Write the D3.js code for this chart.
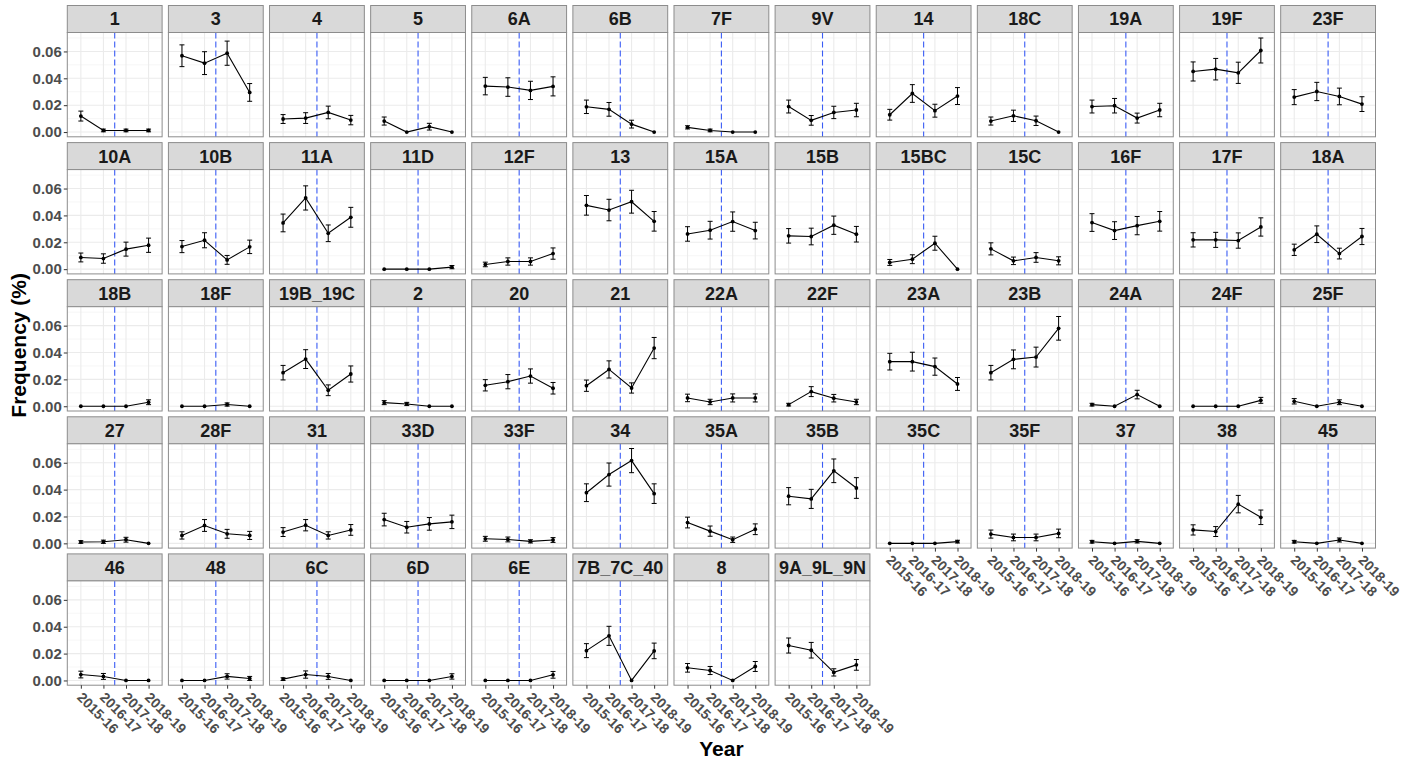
<!DOCTYPE html>
<html>
<head>
<meta charset="utf-8">
<script src="https://cdn.jsdelivr.net/npm/d3@7"></script>
<style>
  body { margin: 0; background: #fff; }
  text { font-family: "Liberation Sans", Arial, sans-serif; }
</style>
</head>
<body>
<script>
const years = ["2015-16", "2016-17", "2017-18", "2018-19"];

const serotypes = [
  "1", "3", "4", "5", "6A", "6B", "7F", "9V", "14", "18C", "19A", "19F", "23F",
  "10A", "10B", "11A", "11D", "12F", "13", "15A", "15B", "15BC", "15C", "16F", "17F", "18A",
  "18B", "18F", "19B_19C", "2", "20", "21", "22A", "22F", "23A", "23B", "24A", "24F", "25F",
  "27", "28F", "31", "33D", "33F", "34", "35A", "35B", "35C", "35F", "37", "38", "45",
  "46", "48", "6C", "6D", "6E", "7B_7C_40", "8", "9A_9L_9N"
];

// mean frequency per serotype, one value per year
const freq = [
  [0.0119, 0.0012, 0.0012, 0.0012], [0.0568, 0.0513, 0.0587, 0.0295], [0.0097, 0.0104, 0.0146, 0.0089],
  [0.0082, 0, 0.0040, 0], [0.0342, 0.0335, 0.0310, 0.0340], [0.0188, 0.0169, 0.0059, 0],
  [0.0035, 0.0012, 0, 0], [0.0190, 0.0087, 0.0146, 0.0164], [0.0129, 0.0287, 0.0159, 0.0268],
  [0.0082, 0.0121, 0.0084, 0], [0.0190, 0.0196, 0.0104, 0.0164], [0.0451, 0.0468, 0.0441, 0.0607],
  [0.0260, 0.0302, 0.0265, 0.0208],
  [0.0087, 0.0079, 0.0149, 0.0178], [0.0168, 0.0215, 0.0069, 0.0166], [0.0344, 0.0530, 0.0267, 0.0386],
  [0, 0, 0, 0.0015], [0.0035, 0.0057, 0.0057, 0.0116], [0.0475, 0.0440, 0.0502, 0.0356],
  [0.0262, 0.0290, 0.0354, 0.0287], [0.0248, 0.0243, 0.0327, 0.0260], [0.0050, 0.0074, 0.0193, 0],
  [0.0151, 0.0062, 0.0087, 0.0062], [0.0347, 0.0287, 0.0324, 0.0356], [0.0218, 0.0218, 0.0213, 0.0314],
  [0.0144, 0.0260, 0.0116, 0.0243],
  [0, 0, 0, 0.0030], [0, 0, 0.0013, 0], [0.0250, 0.0351, 0.0119, 0.0240],
  [0.0027, 0.0017, 0, 0], [0.0156, 0.0183, 0.0225, 0.0134], [0.0153, 0.0274, 0.0136, 0.0433],
  [0.0062, 0.0032, 0.0062, 0.0062], [0.0012, 0.0109, 0.0060, 0.0032], [0.0332, 0.0332, 0.0295, 0.0166],
  [0.0250, 0.0349, 0.0366, 0.0580], [0.0012, 0, 0.0087, 0], [0, 0, 0, 0.0044],
  [0.0037, 0, 0.0030, 0],
  [0.0010, 0.0012, 0.0027, 0], [0.0059, 0.0133, 0.0071, 0.0059], [0.0084, 0.0135, 0.0059, 0.0100],
  [0.0177, 0.0120, 0.0145, 0.0160], [0.0034, 0.0029, 0.0015, 0.0025], [0.0377, 0.0512, 0.0616, 0.0370],
  [0.0155, 0.0091, 0.0027, 0.0105], [0.0351, 0.0331, 0.0540, 0.0412], [0, 0, 0, 0.0013],
  [0.0069, 0.0044, 0.0044, 0.0074], [0.0012, 0, 0.0015, 0], [0.0100, 0.0088, 0.0292, 0.0194],
  [0.0012, 0, 0.0025, 0],
  [0.0044, 0.0030, 0, 0], [0, 0, 0.0030, 0.0015], [0.0010, 0.0044, 0.0030, 0],
  [0, 0, 0, 0.0030], [0, 0, 0, 0.0042], [0.0222, 0.0332, 0, 0.0220],
  [0.0094, 0.0074, 0, 0.0104], [0.0260, 0.0225, 0.0060, 0.0116]
];

// half width of the error bar
const err = [
  [0.0037, 0.0010, 0.0010, 0.0010], [0.0081, 0.0085, 0.0090, 0.0066], [0.0033, 0.0040, 0.0047, 0.0035],
  [0.0030, 0, 0.0025, 0], [0.0065, 0.0069, 0.0068, 0.0071], [0.0050, 0.0051, 0.0029, 0],
  [0.0012, 0.0010, 0, 0], [0.0048, 0.0036, 0.0046, 0.0050], [0.0040, 0.0066, 0.0048, 0.0063],
  [0.0030, 0.0042, 0.0035, 0], [0.0048, 0.0054, 0.0037, 0.0050], [0.0071, 0.0080, 0.0079, 0.0093],
  [0.0056, 0.0068, 0.0062, 0.0055],
  [0.0033, 0.0035, 0.0052, 0.0053], [0.0045, 0.0056, 0.0033, 0.0050], [0.0066, 0.0090, 0.0062, 0.0074],
  [0, 0, 0, 0.0012], [0.0017, 0.0027, 0.0027, 0.0042], [0.0073, 0.0080, 0.0085, 0.0073],
  [0.0054, 0.0066, 0.0072, 0.0062], [0.0054, 0.0062, 0.0068, 0.0058], [0.0022, 0.0033, 0.0052, 0],
  [0.0045, 0.0028, 0.0036, 0.0030], [0.0066, 0.0066, 0.0068, 0.0073], [0.0053, 0.0056, 0.0057, 0.0068],
  [0.0042, 0.0062, 0.0040, 0.0060],
  [0, 0, 0, 0.0018], [0, 0, 0.0012, 0], [0.0054, 0.0070, 0.0040, 0.0060],
  [0.0015, 0.0012, 0, 0], [0.0042, 0.0053, 0.0053, 0.0043], [0.0042, 0.0064, 0.0038, 0.0079],
  [0.0028, 0.0020, 0.0030, 0.0030], [0.0010, 0.0037, 0.0028, 0.0020], [0.0062, 0.0070, 0.0064, 0.0048],
  [0.0054, 0.0070, 0.0074, 0.0088], [0.0010, 0, 0.0032, 0], [0, 0, 0, 0.0022],
  [0.0020, 0, 0.0018, 0],
  [0.0010, 0.0012, 0.0018, 0], [0.0027, 0.0044, 0.0033, 0.0030], [0.0033, 0.0042, 0.0027, 0.0040],
  [0.0047, 0.0043, 0.0047, 0.0050], [0.0018, 0.0018, 0.0012, 0.0018], [0.0066, 0.0086, 0.0090, 0.0073],
  [0.0040, 0.0038, 0.0020, 0.0040], [0.0064, 0.0071, 0.0088, 0.0077], [0, 0, 0, 0.0010],
  [0.0030, 0.0025, 0.0025, 0.0032], [0.0010, 0, 0.0012, 0], [0.0038, 0.0037, 0.0065, 0.0054],
  [0.0010, 0, 0.0015, 0],
  [0.0025, 0.0022, 0, 0], [0, 0, 0.0020, 0.0015], [0.0010, 0.0027, 0.0022, 0],
  [0, 0, 0, 0.0020], [0, 0, 0, 0.0025], [0.0052, 0.0071, 0, 0.0058],
  [0.0032, 0.0030, 0, 0.0037], [0.0056, 0.0058, 0.0027, 0.0040]
];

const yMajor = [0, 0.02, 0.04, 0.06];
const yMinor = [0.01, 0.03, 0.05, 0.07];

const W = 1402, H = 762;
const ncol = 13;
const left = 67.3, right = 1375.5, top0 = 5.5;
const gapX = 6.3, stripH = 27, panelH = 104.3, rowPitch = 137.1;
const panelW = (right - left - gapX * (ncol - 1)) / ncol;

const svg = d3.select("body").append("svg")
    .attr("width", W)
    .attr("height", H);

const x = d3.scalePoint().domain(years).range([0, panelW]).padding(0.6);
const y = d3.scaleLinear().domain([-0.00353, 0.0741]).range([panelH, 0]);
const cutX = (x(years[1]) + x(years[2])) / 2;
const capW = x.step() * 0.11;

const line = d3.line()
    .x(d => x(d.year))
    .y(d => y(d.v));

const n = serotypes.length;
const nLast = n - ncol * 4;

serotypes.forEach((name, i) => {
  const col = i % ncol, row = Math.floor(i / ncol);
  const gx = left + col * (panelW + gapX);
  const gy = top0 + row * rowPitch;
  const g = svg.append("g").attr("transform", `translate(${gx},${gy})`);

  // strip
  g.append("rect")
      .attr("width", panelW).attr("height", stripH)
      .attr("fill", "#d9d9d9").attr("stroke", "#8c8c8c").attr("stroke-width", 1);
  g.append("text")
      .attr("x", panelW / 2).attr("y", stripH / 2)
      .attr("dy", "0.36em")
      .attr("text-anchor", "middle")
      .attr("font-size", 18).attr("font-weight", "bold")
      .attr("fill", "#1a1a1a")
      .text(name);

  const p = g.append("g").attr("transform", `translate(0,${stripH})`);
  p.append("rect").attr("width", panelW).attr("height", panelH).attr("fill", "#fff");

  // grid
  p.selectAll(".minor").data(yMinor).enter().append("line")
      .attr("x1", 0).attr("x2", panelW)
      .attr("y1", d => y(d)).attr("y2", d => y(d))
      .attr("stroke", "#f0f0f0").attr("stroke-width", 0.6);
  p.selectAll(".major").data(yMajor).enter().append("line")
      .attr("x1", 0).attr("x2", panelW)
      .attr("y1", d => y(d)).attr("y2", d => y(d))
      .attr("stroke", "#ebebeb").attr("stroke-width", 1.1);
  p.selectAll(".vgrid").data(years).enter().append("line")
      .attr("x1", d => x(d)).attr("x2", d => x(d))
      .attr("y1", 0).attr("y2", panelH)
      .attr("stroke", "#ebebeb").attr("stroke-width", 1.1);

  // cut line between 2016-17 and 2017-18
  p.append("line")
      .attr("x1", cutX).attr("x2", cutX)
      .attr("y1", 0).attr("y2", panelH)
      .attr("stroke", "#3a5cf5").attr("stroke-width", 1.1)
      .attr("stroke-dasharray", "6,3");

  const pts = years.map((yr, j) => ({year: yr, v: freq[i][j], e: err[i][j]}));

  // error bars
  const eb = p.selectAll(".eb").data(pts).enter().append("g");
  eb.append("line")
      .attr("x1", d => x(d.year)).attr("x2", d => x(d.year))
      .attr("y1", d => y(d.v - d.e)).attr("y2", d => y(d.v + d.e))
      .attr("stroke", "#000").attr("stroke-width", 1);
  eb.filter(d => d.e > 0).selectAll(".cap")
      .data(d => [[d.year, d.v - d.e], [d.year, d.v + d.e]])
      .enter().append("line")
      .attr("x1", d => x(d[0]) - capW).attr("x2", d => x(d[0]) + capW)
      .attr("y1", d => y(d[1])).attr("y2", d => y(d[1]))
      .attr("stroke", "#000").attr("stroke-width", 1);

  p.append("path").datum(pts)
      .attr("d", line)
      .attr("fill", "none").attr("stroke", "#000").attr("stroke-width", 1.1);

  p.selectAll(".pt").data(pts).enter().append("circle")
      .attr("cx", d => x(d.year)).attr("cy", d => y(d.v))
      .attr("r", 1.9).attr("fill", "#000");

  p.append("rect").attr("width", panelW).attr("height", panelH)
      .attr("fill", "none").attr("stroke", "#8c8c8c").attr("stroke-width", 1);

  // y axis on first column
  if (col === 0) {
    const ya = p.append("g").call(d3.axisLeft(y).tickValues(yMajor).tickFormat(d3.format(".2f")).tickSize(3.5).tickPadding(2));
    ya.select(".domain").remove();
    ya.selectAll("line").attr("stroke", "#333");
    ya.selectAll("text")
        .attr("font-size", 15).attr("font-weight", "bold")
        .attr("fill", "#4d4d4d")
        .style("font-family", "'Liberation Sans', Arial, sans-serif");
  }

  // x axis where no panel sits below
  const hasBelow = row < 3 || (row === 3 && col < nLast);
  if (!hasBelow) {
    const xa = p.append("g").attr("transform", `translate(0,${panelH})`)
        .call(d3.axisBottom(x).tickSize(3.5).tickPadding(0));
    xa.select(".domain").remove();
    xa.selectAll("line").attr("stroke", "#333");
    xa.selectAll("text")
        .attr("font-size", 14).attr("font-weight", "bold")
        .attr("fill", "#4d4d4d")
        .style("font-family", "'Liberation Sans', Arial, sans-serif")
        .attr("text-anchor", "start")
        .attr("dy", null).attr("y", null)
        .attr("transform", "translate(-5,13) rotate(45)");
  }
});

// axis titles
svg.append("text")
    .attr("x", (left + right) / 2).attr("y", 756)
    .attr("text-anchor", "middle")
    .attr("font-size", 21).attr("font-weight", "bold")
    .text("Year");

svg.append("text")
    .attr("transform", `translate(26,${(top0 + top0 + 4 * rowPitch + stripH + panelH) / 2}) rotate(-90)`)
    .attr("text-anchor", "middle")
    .attr("font-size", 21).attr("font-weight", "bold")
    .text("Frequency (%)");
</script>
</body>
</html>
